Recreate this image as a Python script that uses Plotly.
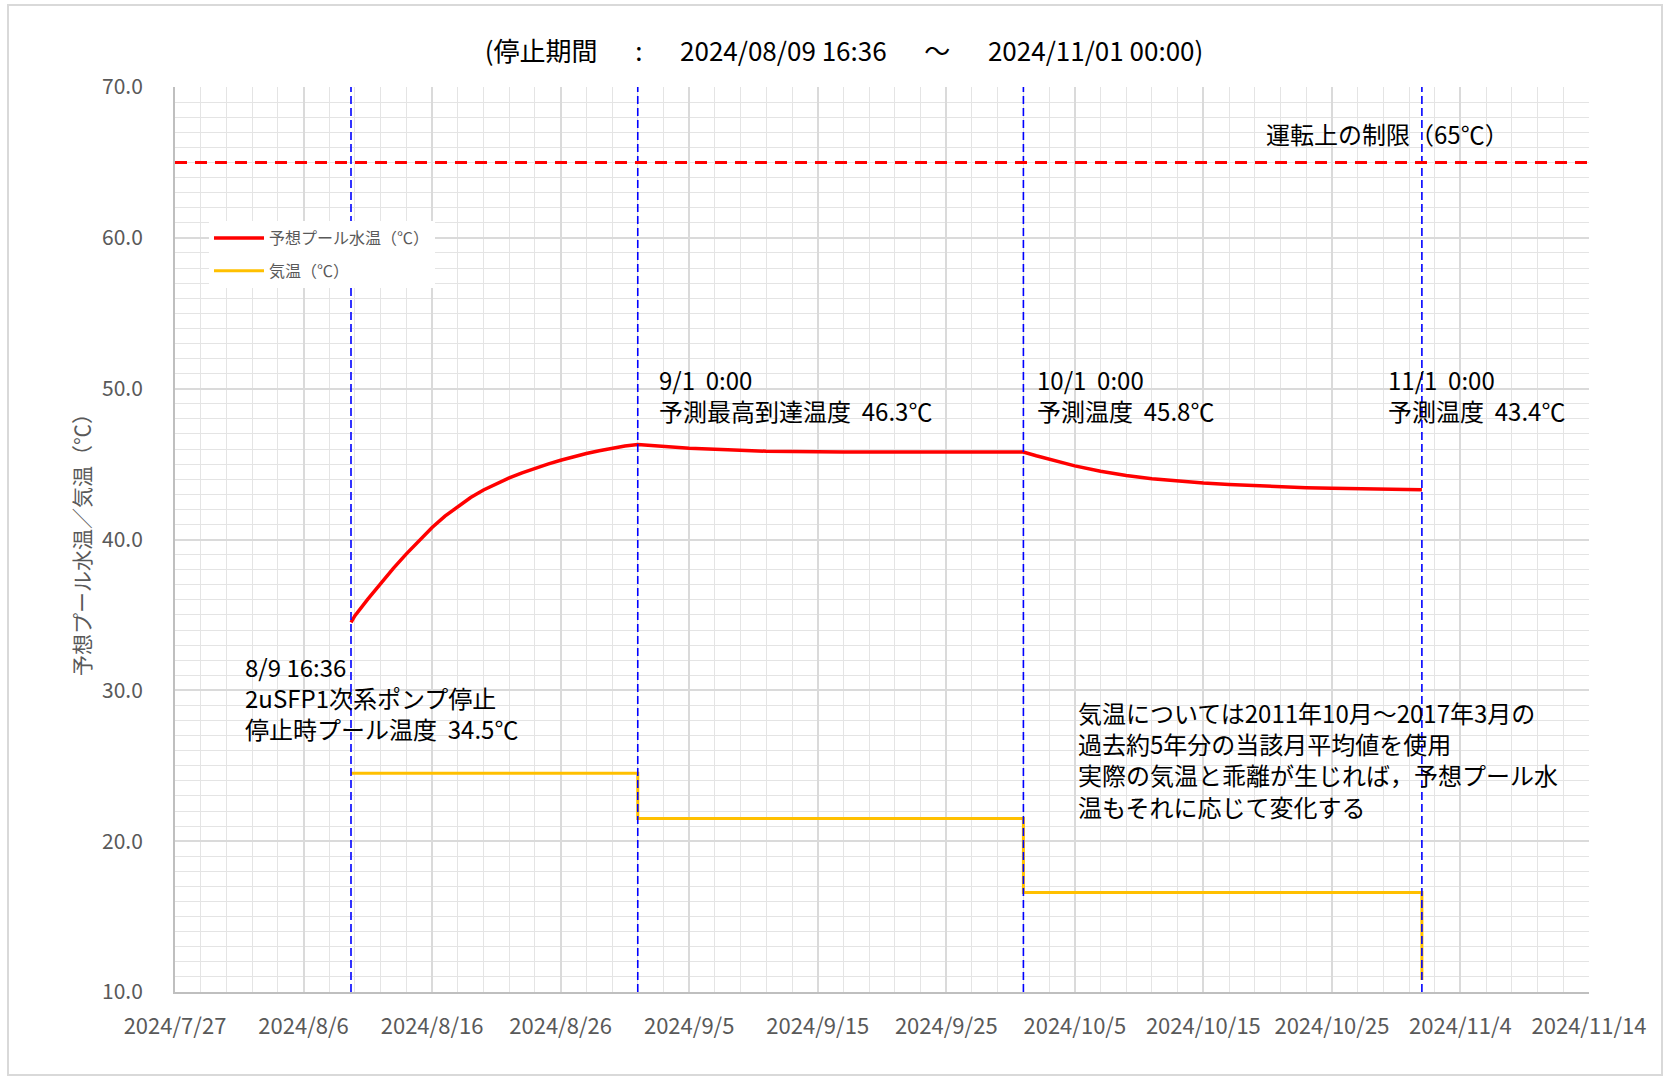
import plotly.graph_objects as go

# ---------------- data ----------------
pool_dates = [
    "2024-08-09 16:36", "2024-08-10", "2024-08-11", "2024-08-12", "2024-08-13",
    "2024-08-14", "2024-08-15", "2024-08-16", "2024-08-17", "2024-08-18",
    "2024-08-19", "2024-08-20", "2024-08-21", "2024-08-22", "2024-08-23",
    "2024-08-24", "2024-08-25", "2024-08-26", "2024-08-27", "2024-08-28",
    "2024-08-29", "2024-08-30", "2024-08-31", "2024-09-01",
    "2024-09-03", "2024-09-05", "2024-09-08", "2024-09-11", "2024-09-17",
    "2024-10-01", "2024-10-02", "2024-10-03", "2024-10-04", "2024-10-05",
    "2024-10-07", "2024-10-09", "2024-10-11", "2024-10-13", "2024-10-15",
    "2024-10-17", "2024-10-19", "2024-10-21", "2024-10-23", "2024-10-25",
    "2024-10-27", "2024-10-29", "2024-11-01",
]
pool_temp = [
    34.5, 34.95, 36.05, 37.1, 38.1,
    39.05, 39.95, 40.8, 41.55, 42.2,
    42.78, 43.28, 43.7, 44.08, 44.42,
    44.72, 45.0, 45.25, 45.48, 45.7,
    45.88, 46.05, 46.2, 46.3,
    46.15, 46.05, 45.95, 45.85, 45.8,
    45.8, 45.55, 45.32, 45.1, 44.88,
    44.52, 44.24, 44.03, 43.87, 43.74,
    43.64, 43.56, 43.49, 43.43, 43.39,
    43.35, 43.32, 43.3,
]

air_dates = ["2024-08-09 16:36", "2024-09-01", "2024-10-01", "2024-11-01"]
air_temp = [24.5, 21.5, 16.6, 10.8]

event_dates = ["2024-08-09 16:36", "2024-09-01", "2024-10-01", "2024-11-01"]
limit_temp = 65

x_range = ["2024-07-27", "2024-11-14"]
y_range = [10, 70]

series_names = ["予想プール水温（℃）", "気温（℃）"]
gap = "\u3000\u00a0\u00a0"
title_text = "(停止期間" + gap + ":" + gap + "2024/08/09 16:36" + gap + "～" + gap + "2024/11/01 00:00)"
y_title = "予想プール水温／気温（℃）"
limit_label = "運転上の制限（65℃）"

nb = "\u00a0\u00a0"
event_labels = [
    "8/9 16:36<br>2uSFP1次系ポンプ停止<br>停止時プール温度" + nb + "34.5℃",
    "9/1" + nb + "0:00<br>予測最高到達温度" + nb + "46.3℃",
    "10/1" + nb + "0:00<br>予測温度" + nb + "45.8℃",
    "11/1" + nb + "0:00<br>予測温度" + nb + "43.4℃",
]
note_text = ("気温については2011年10月～2017年3月の<br>過去約5年分の当該月平均値を使用<br>"
             "実際の気温と乖離が生じれば，予想プール水<br>温もそれに応じて変化する")

# ---------------- figure ----------------
W, H = 1667, 1079
ML, MR, MT, MB = 175, 78, 87, 87
PW, PH = W - ML - MR, H - MT - MB

FONT = "Noto Sans CJK JP"
DAY = 86400000

fig = go.Figure()
fig.add_trace(go.Scatter(
    x=pool_dates, y=pool_temp, mode="lines", name=series_names[0],
    line=dict(color="#FF0000", width=3.5),
    legendgroup="a",
))
fig.add_trace(go.Scatter(
    x=air_dates, y=air_temp, mode="lines", name=series_names[1],
    line=dict(color="#FFC000", width=3, shape="hv"),
    legendgroup="b",
))

shapes = []
for d in event_dates:
    shapes.append(dict(type="line", xref="x", yref="paper", x0=d, x1=d, y0=0, y1=1,
                       line=dict(color="#0000FF", width=1.6, dash="8px,4px"), layer="above"))
shapes.append(dict(type="line", xref="paper", yref="y", x0=0, x1=1, y0=limit_temp, y1=limit_temp,
                   line=dict(color="#FF0000", width=3, dash="12px,8px"), layer="above"))
# outer border
shapes.append(dict(type="rect", xref="paper", yref="paper",
                   x0=(8 - ML) / PW, x1=(1662 - ML) / PW,
                   y0=1 - (1075 - MT) / PH, y1=1 - (5 - MT) / PH,
                   line=dict(color="#D9D9D9", width=2), fillcolor="rgba(0,0,0,0)", layer="below"))

ann_font = dict(family=FONT, size=24, color="#000000")
annotations = [
    dict(xref="x", yref="y", x=event_dates[0], y=29.5, xshift=-108, text=event_labels[0],
         xanchor="left", yanchor="middle", align="left", showarrow=False, font=ann_font),
    dict(xref="x", yref="y", x=event_dates[1], y=49.55, xshift=19, text=event_labels[1],
         xanchor="left", yanchor="middle", align="left", showarrow=False, font=ann_font),
    dict(xref="x", yref="y", x=event_dates[2], y=49.6, xshift=12, text=event_labels[2],
         xanchor="left", yanchor="middle", align="left", showarrow=False, font=ann_font),
    dict(xref="x", yref="y", x=event_dates[3], y=49.6, xshift=-36, text=event_labels[3],
         xanchor="left", yanchor="middle", align="left", showarrow=False, font=ann_font),
    dict(xref="paper", yref="y", x=(1076 - ML) / PW, y=25.4, text=note_text,
         xanchor="left", yanchor="middle", align="left", showarrow=False, font=ann_font),
    dict(xref="paper", yref="y", x=(1511 - ML) / PW, y=limit_temp, yshift=29, text=limit_label,
         xanchor="right", yanchor="middle", align="right", showarrow=False, font=ann_font),
]

fig.update_layout(
    width=W, height=H,
    margin=dict(l=ML, r=MR, t=MT, b=MB, pad=0),
    paper_bgcolor="white", plot_bgcolor="white",
    font=dict(family=FONT, color="#595959"),
    title=dict(text=title_text, x=844 / W, y=1 - 52 / H, xref="container", yref="container",
               xanchor="center", yanchor="middle",
               font=dict(family=FONT, size=26, color="#000000")),
    showlegend=True,
    legend=dict(x=(209 - ML) / PW, y=1 - (221 - MT) / PH, xanchor="left", yanchor="top",
                bgcolor="white", borderwidth=0, font=dict(family=FONT, size=16, color="#595959"),
                traceorder="grouped", tracegroupgap=9, itemwidth=50),
    shapes=shapes,
    annotations=annotations,
)

fig.update_xaxes(
    type="date", range=x_range, tick0=x_range[0], dtick=10 * DAY,
    tickformat="%Y/%-m/%-d", tickfont=dict(family=FONT, size=22, color="#595959"),
    showgrid=True, gridcolor="#DADADA", gridwidth=1.5,
    minor=dict(tick0=x_range[0], dtick=2 * DAY, showgrid=True, gridcolor="#E4E4E4", gridwidth=1.2),
    showline=True, linecolor="#BFBFBF", linewidth=2, zeroline=False,
    ticks="", ticklabelstandoff=14,
)
fig.update_yaxes(
    range=y_range, dtick=10, tick0=10, tickformat=".1f",
    tickfont=dict(family=FONT, size=21, color="#595959"),
    showgrid=True, gridcolor="#DADADA", gridwidth=1.5,
    minor=dict(dtick=1, tick0=10, showgrid=True, gridcolor="#E4E4E4", gridwidth=1.2),
    showline=True, linecolor="#BFBFBF", linewidth=2, zeroline=False,
    ticks="", ticklabelstandoff=26,
    title=dict(text=y_title, font=dict(family=FONT, size=21, color="#595959"), standoff=6),
)

fig.write_html("out.html")
